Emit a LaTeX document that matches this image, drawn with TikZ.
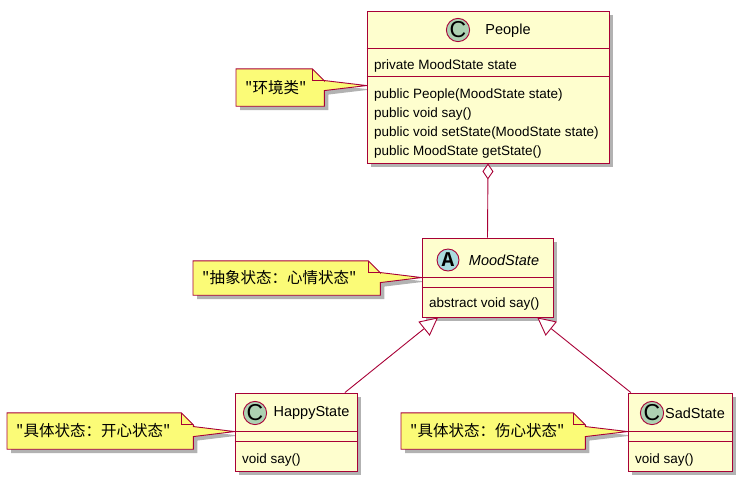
\documentclass[tikz,border=0pt]{standalone}
\usepackage{fontspec}
\setmainfont{Liberation Sans}
\newfontfamily\cjk{Noto Sans CJK SC}
\newfontfamily\spotfont{Liberation Mono}
\usetikzlibrary{positioning, calc, arrows.meta, shadows, backgrounds}

\definecolor{umlred}{HTML}{A80036}
\definecolor{classbg}{HTML}{FEFECE}
\definecolor{notebg}{HTML}{FBFB77}
\definecolor{spotgreen}{HTML}{ADD1B2}
\definecolor{spotblue}{HTML}{A9DCDF}

\tikzset{
  umlshadow/.style={drop shadow={shadow xshift=4pt, shadow yshift=-4pt, fill=black!55, opacity=0.55}},
  umlline/.style={draw=umlred, line width=0.9pt},
  classbox/.style={umlline, fill=classbg, umlshadow, inner sep=0pt},
  spot/.style={circle, umlline, minimum size=22pt, inner sep=0pt},
  spotletter/.style={font=\fontsize{23}{23}\selectfont},
  classname/.style={font=\fontsize{14.5}{16}\selectfont, inner sep=0pt},
  member/.style={anchor=west, font=\fontsize{13.5}{15}\selectfont, inner sep=0pt},
  notebox/.style={umlline, fill=notebg, umlshadow},
  notetext/.style={anchor=west, align=left, inner xsep=9pt, inner ysep=0pt, font=\cjk\fontsize{15.5}{17}\selectfont},
}

% note with folded corner, pointing to #2
\newcommand{\umlnote}[2]{%
  \begin{scope}[on background layer]
    \draw[notebox] (#1.north west) -- ($(#1.north east)+(-12,0)$) -- ($(#1.north east)+(0,12)$)
      -- ($(#1.east |- #2)+(0,-5)$) -- (#2) -- ($(#1.east |- #2)+(0,5)$)
      -- (#1.south east) -- (#1.south west) -- cycle;
    \draw[umlline] ($(#1.north east)+(-12,0)$) -- ($(#1.north east)+(-12,12)$) -- ($(#1.north east)+(0,12)$);
  \end{scope}}

\begin{document}
\begin{tikzpicture}[x=1pt, y=-1pt]
  \useasboundingbox (0,0) rectangle (743,483);

  % People
  \node[classbox, minimum width=242, minimum height=152] (people) at (488,87) {};
  \node[spot, fill=spotgreen, spotletter] (peoplespot) at (458,30) {C};
  \node[classname] (peoplename) at (508,31) {People};
  \draw[umlline] ($(people.north west)+(0,38)$) -- ($(people.north east)+(0,38)$);
  \draw[umlline] ($(people.north west)+(0,66)$) -- ($(people.north east)+(0,66)$);
  \node[member] (peopleattr) at (374,66) {private MoodState state};
  \foreach \i/\y/\m in {1/95/{public People(MoodState state)},
                        2/114/{public void say()},
                        3/133/{public void setState(MoodState state)},
                        4/152/{public MoodState getState()}} {
    \node[member] (peoplem\i) at (374,\y) {\m};
  }

  % MoodState (abstract)
  \node[classbox, minimum width=131, minimum height=79] (mood) at (487.5,277.5) {};
  \node[spot, fill=spotblue, font=\spotfont\bfseries\fontsize{21}{21}\selectfont] (moodspot) at (448,260) {A};
  \node[classname, font=\itshape\fontsize{14.5}{16}\selectfont] (moodname) at (504,260) {MoodState};
  \draw[umlline] ($(mood.north west)+(0,40)$) -- ($(mood.north east)+(0,40)$);
  \draw[umlline] ($(mood.north west)+(0,50)$) -- ($(mood.north east)+(0,50)$);
  \node[member] (moodm1) at (429,304) {abstract void say()};

  % HappyState
  \node[classbox, minimum width=122, minimum height=78] (happy) at (296,432) {};
  \node[spot, fill=spotgreen, spotletter] (happyspot) at (255,413) {C};
  \node[classname] (happyname) at (311.5,413) {HappyState};
  \draw[umlline] ($(happy.north west)+(0,39)$) -- ($(happy.north east)+(0,39)$);
  \draw[umlline] ($(happy.north west)+(0,49)$) -- ($(happy.north east)+(0,49)$);
  \node[member] (happym1) at (242,460) {void say()};

  % SadState
  \node[classbox, minimum width=104, minimum height=78] (sad) at (680,432) {};
  \node[spot, fill=spotgreen, spotletter] (sadspot) at (652,413) {C};
  \node[classname] (sadname) at (695,413) {SadState};
  \draw[umlline] ($(sad.north west)+(0,39)$) -- ($(sad.north east)+(0,39)$);
  \draw[umlline] ($(sad.north west)+(0,49)$) -- ($(sad.north east)+(0,49)$);
  \node[member] (sadm1) at (635,460) {void say()};

  % Relations
  \draw[umlline, {Diamond[open, fill=white, length=16pt, width=11pt]}-] (people.south) -- (mood.north);
  \draw[umlline, -{Triangle[open, fill=white, length=18pt, width=18pt]}] (happy) -- (mood);
  \draw[umlline, -{Triangle[open, fill=white, length=18pt, width=18pt]}] (sad) -- (mood);

  % Notes
  \node[notetext, text width=70, minimum height=37] (peoplenote) at (236,87.5) {"环境类"};
  \coordinate (peopletip) at ($(people.north west)+(0,75)$);
  \umlnote{peoplenote}{peopletip}

  \node[notetext, text width=169, minimum height=34] (moodnote) at (193,278) {"抽象状态：心情状态"};
  \coordinate (moodtip) at ($(mood.north west)+(0,40)$);
  \umlnote{moodnote}{moodtip}

  \node[notetext, text width=168, minimum height=36] (happynote) at (7,431) {"具体状态：开心状态"};
  \coordinate (happytip) at ($(happy.north west)+(0,39)$);
  \umlnote{happynote}{happytip}

  \node[notetext, text width=166, minimum height=36] (sadnote) at (401,431) {"具体状态：伤心状态"};
  \coordinate (sadtip) at ($(sad.north west)+(0,39)$);
  \umlnote{sadnote}{sadtip}
\end{tikzpicture}
\end{document}
